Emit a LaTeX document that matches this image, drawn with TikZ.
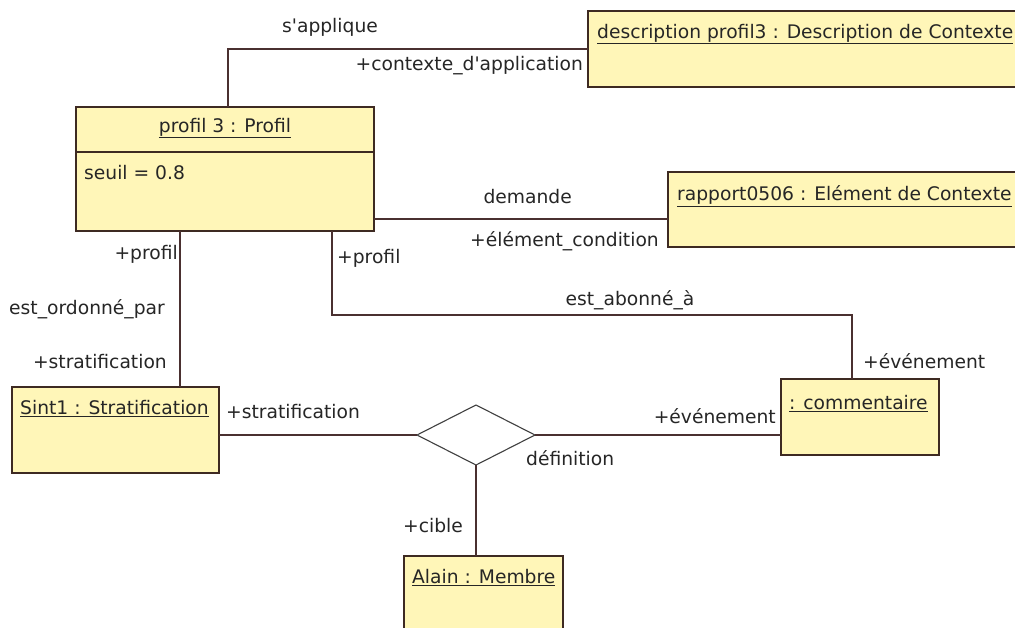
\documentclass[tikz,border=0pt]{standalone}
\usepackage{fontspec}
\setmainfont{DejaVu Sans}[Ligatures=TeXOff]
\usetikzlibrary{shapes.geometric,calc}
\definecolor{boxfill}{HTML}{FFF6B8}
\definecolor{edgecol}{HTML}{3E2A22}
\definecolor{linecol}{HTML}{4A3030}
\begin{document}
\begin{tikzpicture}[x=1pt,y=-1pt,
  obj/.style={draw=edgecol, fill=boxfill, line width=1.8pt, inner sep=0pt, outer sep=0pt, anchor=north west},
  assoc/.style={draw=linecol, line width=1.4pt},
  lbl/.style={font=\fontsize{18.7}{20}\selectfont, inner sep=0pt, text=black!85},
  nary/.style={diamond, draw=black!75, line width=1.1pt, fill=white, inner sep=0pt, outer sep=0pt, minimum width=118pt, minimum height=60pt}
  ]
\clip (0,0) rectangle (1015,627);
\fill[white] (0,0) rectangle (1015,627);

% boxes
\node[obj, minimum width=298pt, minimum height=124pt] (profil) at (76,107) {};
\node[obj, minimum width=500pt, minimum height=76pt] (desc) at (588,11) {};
\node[obj, minimum width=500pt, minimum height=75pt] (rapport) at (668,172) {};
\node[obj, minimum width=207pt, minimum height=86pt] (sint) at (12,387) {};
\node[obj, minimum width=158pt, minimum height=76pt] (comm) at (781,379) {};
\node[obj, minimum width=159pt, minimum height=100pt] (alain) at (404,556) {};
\node[nary] (diam) at (476,435) {};

% divider of profil
\draw[draw=edgecol, line width=1.6pt] ($(profil.north west)+(0,45)$) -- ($(profil.north east)+(0,45)$);

% titles
\node[lbl] (profilT) at (225,128) {\underline{profil 3 : Profil}};
\node[lbl, anchor=west] (seuil) at (84,173) {seuil = 0.8};
\node[lbl, anchor=west] (descT) at (597,34) {\underline{description profil3 : Description de Contexte}};
\node[lbl, anchor=west] (rapT) at (677,196) {\underline{rapport0506 : Elément de Contexte}};
\node[lbl, anchor=west] (sintT) at (20,409) {\underline{Sint1 : Stratification}};
\node[lbl, anchor=west] (commT) at (789,404) {\underline{: commentaire}};
\node[lbl, anchor=west] (alainT) at (412,578) {\underline{Alain : Membre}};

% connectors
\coordinate (pA) at ($(profil.north west)+(152,0)$);
\coordinate (dA) at ($(desc.north west)+(0,38)$);
\draw[assoc] (pA) |- (dA);

\coordinate (dB) at ($(rapport.north west)+(0,47)$);
\draw[assoc] (dB -| profil.east) -- (dB);

\coordinate (pC) at ($(profil.south west)+(104,0)$);
\draw[assoc] (pC) -- (pC |- sint.north);

\coordinate (pD) at ($(profil.south west)+(256,0)$);
\coordinate (cD) at ($(comm.north west)+(71,0)$);
\draw[assoc] (pD) -- ++(0,84) -| (cD);

\draw[assoc] (diam.west) -- (diam.west -| sint.east);
\draw[assoc] (diam.east) -- (diam.east -| comm.west);
\draw[assoc] (diam.south) -- (diam.south |- alain.north);

% association labels
\node[lbl] (l1) at (330,27) {s'applique};
\node[lbl, anchor=east] (l2) at (583,66) {+contexte\_d'application};
\node[lbl, anchor=east] (l3) at (572,197) {demande};
\node[lbl, anchor=east] (l4) at (659,241) {+élément\_condition};
\node[lbl, anchor=east] (l5) at (178,254) {+profil};
\node[lbl, anchor=west] (l6) at (337,258) {+profil};
\node[lbl, anchor=west] (l7) at (9,309) {est\_ordonné\_par};
\node[lbl, anchor=east] (l8) at (167,362) {+stratification};
\node[lbl] (l9) at (630,300) {est\_abonné\_à};
\node[lbl, anchor=west] (l10) at (863,361) {+événement};
\node[lbl, anchor=west] (l11) at (226,412) {+stratification};
\node[lbl, anchor=east] (l12) at (776,416) {+événement};
\node[lbl, anchor=west] (l13) at (526,458) {définition};
\node[lbl, anchor=west] (l14) at (403,526) {+cible};
\end{tikzpicture}
\end{document}
